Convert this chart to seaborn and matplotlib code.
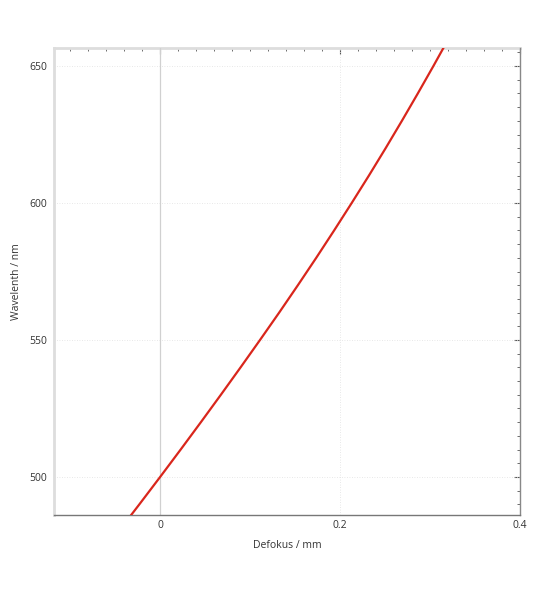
import numpy as np
import pandas as pd
import seaborn as sns
import matplotlib.pyplot as plt
from matplotlib.ticker import MultipleLocator

# wavelength (nm) vs. defocus (mm)
wavelength = [480, 490, 500, 510, 520, 530, 540, 550, 560, 570,
              580, 590, 600, 610, 620, 630, 640, 650, 660]
defocus = [-0.0465, -0.0231, 0.0000, 0.0228, 0.0453, 0.0675, 0.0894, 0.1110, 0.1323, 0.1531,
           0.1735, 0.1934, 0.2129, 0.2320, 0.2506, 0.2687, 0.2864, 0.3037, 0.3206]

df = pd.DataFrame({"defocus": defocus, "wavelength": wavelength})

sns.set_style("white")
plt.rcParams['font.family'] = ['Open Sans', 'DejaVu Sans']

fig = plt.figure(figsize=(5.36, 5.93), dpi=100)
ax = fig.add_axes([54 / 536, 1 - 515 / 593, 466 / 536, 467 / 593])

ax.axvline(0, color="#d0d0d0", lw=0.9, zorder=1)
sns.lineplot(data=df, x="defocus", y="wavelength", sort=False, estimator=None,
             color="#d9261c", lw=1.6, ax=ax, zorder=3)

ax.set_xlim(-0.118, 0.4)
ax.set_ylim(486.1, 656.6)
ax.xaxis.set_major_locator(MultipleLocator(0.2))
ax.xaxis.set_minor_locator(MultipleLocator(0.05))
ax.yaxis.set_major_locator(MultipleLocator(50))
ax.yaxis.set_minor_locator(MultipleLocator(10))
ax.set_xticks([0, 0.2, 0.4])
ax.set_xticklabels(["0", "0.2", "0.4"])
ax.grid(True, which="major", ls=(0, (1, 2)), color="#e0e0e0", lw=0.6)

ax.tick_params(axis="x", which="both", direction="in", colors="#555555",
               labelcolor="#333333", labelsize=7.5)
ax.tick_params(axis="x", which="major", length=4, width=0.8)
ax.tick_params(axis="x", which="minor", length=2.5, width=0.6)
ax.tick_params(axis="y", which="major", direction="out", length=3, width=0.8, pad=2,
               colors="#555555", labelcolor="#333333", labelsize=7.5)
ax.tick_params(axis="y", which="minor", direction="in", length=2.5, width=0.6,
               colors="#888888")

# top and right ticks with finer minor spacing
top = ax.secondary_xaxis("top")
top.xaxis.set_major_locator(MultipleLocator(0.2))
top.xaxis.set_minor_locator(MultipleLocator(0.02))
top.tick_params(which="both", direction="in", labeltop=False, colors="#555555")
top.tick_params(which="major", length=4, width=0.8)
top.tick_params(which="minor", length=2.5, width=0.6)
top.spines["top"].set_color("#dddddd")
top.spines["top"].set_linewidth(2)

right = ax.secondary_yaxis("right")
right.yaxis.set_major_locator(MultipleLocator(50))
right.yaxis.set_minor_locator(MultipleLocator(5))
right.tick_params(which="both", direction="in", labelright=False, colors="#555555")
right.tick_params(which="major", length=4, width=0.8)
right.tick_params(which="minor", length=2.5, width=0.6)
right.spines["right"].set_color("#888888")
right.spines["right"].set_linewidth(1)

ax.spines["top"].set_visible(False)
ax.spines["right"].set_visible(False)
ax.spines["left"].set_color("#dddddd")
ax.spines["left"].set_linewidth(2)
ax.spines["bottom"].set_color("#777777")
ax.spines["bottom"].set_linewidth(1)

ax.set_xlabel("Defokus / mm", fontsize=7.5, color="#333333")
ax.set_ylabel("Wavelenth / nm", fontsize=7.5, color="#333333")
ax.xaxis.set_label_coords(0.5, -25 / 467)
ax.yaxis.set_label_coords(-32 / 466, 0.5)

fig.savefig("out.png", dpi=100)
